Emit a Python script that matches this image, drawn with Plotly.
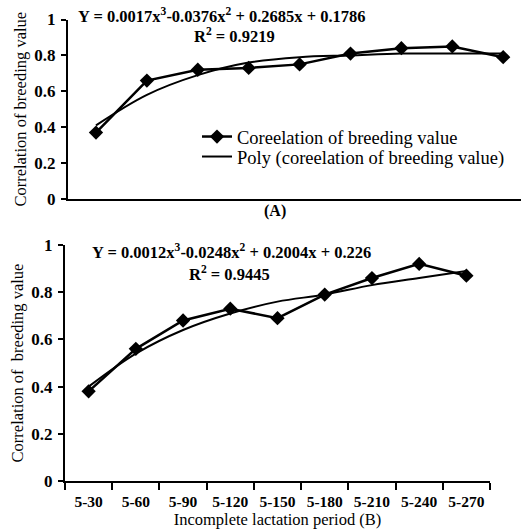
import plotly.graph_objects as go

periods = ["5-30", "5-60", "5-90", "5-120", "5-150", "5-180", "5-210", "5-240", "5-270"]
corr_a = [0.37, 0.66, 0.72, 0.73, 0.75, 0.81, 0.84, 0.85, 0.79]
poly_a = [0.41, 0.58, 0.69, 0.76, 0.79, 0.80, 0.81, 0.81, 0.81]
corr_b = [0.38, 0.56, 0.68, 0.73, 0.69, 0.79, 0.86, 0.92, 0.87]
poly_b = [0.40, 0.54, 0.64, 0.71, 0.76, 0.79, 0.83, 0.86, 0.89]
y_ticks = [0, 0.2, 0.4, 0.6, 0.8, 1]
y_tick_text = ["0", "0.2", "0.4", "0.6", "0.8", "1"]

SERIF = "Liberation Serif, Times New Roman, serif"
W, H = 523, 529

fig = go.Figure()
fig.add_trace(go.Scatter(x=periods, y=corr_a, mode="lines+markers", name="Coreelation of breeding value",
                         line=dict(color="black", width=2.5), marker=dict(symbol="diamond", size=11, color="black"),
                         xaxis="x", yaxis="y", cliponaxis=False, legend="legend"))
fig.add_trace(go.Scatter(x=periods, y=poly_a, mode="lines", name="Poly (coreelation of breeding value)",
                         line=dict(color="black", width=2, shape="spline"), xaxis="x", yaxis="y",
                         legend="legend2"))
fig.add_trace(go.Scatter(x=periods, y=corr_b, mode="lines+markers", showlegend=False,
                         line=dict(color="black", width=2.5), marker=dict(symbol="diamond", size=11, color="black"),
                         xaxis="x2", yaxis="y2", cliponaxis=False))
fig.add_trace(go.Scatter(x=periods, y=poly_b, mode="lines", showlegend=False,
                         line=dict(color="black", width=2, shape="spline"), xaxis="x2", yaxis="y2"))

def px(v):
    return v / W

def py(v):
    return 1 - v / H

yax = dict(range=[0, 1], tickvals=y_ticks, ticktext=y_tick_text, ticks="outside", ticklen=5, tickwidth=2,
           tickcolor="black", showline=True, linewidth=2, linecolor="black", showgrid=False, zeroline=False,
           automargin=False, ticklabelstandoff=2,
           tickfont=dict(family=SERIF, size=17, color="black", weight="bold"))
title_font = dict(family=SERIF, size=16.5, color="black")
leg_common = dict(xanchor="left", yanchor="middle", bgcolor="rgba(0,0,0,0)",
                  font=dict(family=SERIF, size=18.5, color="black"), itemwidth=30)

fig.update_layout(
    width=W, height=H, margin=dict(l=0, r=0, t=0, b=0, autoexpand=False),
    paper_bgcolor="white", plot_bgcolor="white",
    xaxis=dict(domain=[px(68), px(521)], anchor="y", type="category", range=[-0.55, 8.35], automargin=False,
               showticklabels=False, ticks="", showline=True, linewidth=2, linecolor="black", showgrid=False),
    yaxis=dict(domain=[py(199), py(19.5)], anchor="x", **yax,
               title=dict(text="Correlation of breeding value", standoff=4, font=title_font)),
    xaxis2=dict(domain=[px(65), px(490)], anchor="y2", type="category", range=[-0.5, 8.5], tickson="boundaries",
                ticks="outside", ticklen=7, tickwidth=2, tickcolor="black", showline=True, linewidth=2,
                linecolor="black", showgrid=False, tickangle=0, automargin=False, ticklabelstandoff=5,
                tickfont=dict(family=SERIF, size=15.5, color="black", weight="bold"),
                title=dict(text="Incomplete lactation period (B)", standoff=0, font=title_font)),
    yaxis2=dict(domain=[py(481), py(245)], anchor="x2", **yax,
                title=dict(text="Correlation of&nbsp;&nbsp;breeding value", standoff=4, font=title_font)),
    legend=dict(x=px(197), y=py(137), **leg_common),
    legend2=dict(x=px(197), y=py(157), **leg_common),
    showlegend=True,
)

ann_font = dict(family=SERIF, size=16.5, color="black", weight="bold")
fig.add_annotation(x=px(222), y=py(15), xref="paper", yref="paper", xanchor="center", yanchor="middle",
                   text="Y = 0.0017x<sup>3</sup>-0.0376x<sup>2</sup> + 0.2685x + 0.1786", showarrow=False, font=ann_font)
fig.add_annotation(x=px(234), y=py(36), xref="paper", yref="paper", xanchor="center", yanchor="middle",
                   text="R<sup>2</sup> = 0.9219", showarrow=False, font=ann_font)
fig.add_annotation(x=px(231), y=py(251), xref="paper", yref="paper", xanchor="center", yanchor="middle",
                   text="Y = 0.0012x<sup>3</sup>-0.0248x<sup>2</sup> + 0.2004x + 0.226", showarrow=False, font=ann_font)
fig.add_annotation(x=px(229), y=py(273), xref="paper", yref="paper", xanchor="center", yanchor="middle",
                   text="R<sup>2</sup> = 0.9445", showarrow=False, font=ann_font)
fig.add_annotation(x=px(275), y=py(211), xref="paper", yref="paper", xanchor="center", yanchor="middle",
                   text="(A)", showarrow=False, font=dict(family=SERIF, size=16, color="black", weight="bold"))

fig.write_html("out.html", config={"displayModeBar": False},
               post_script="document.body.style.margin='0';")
